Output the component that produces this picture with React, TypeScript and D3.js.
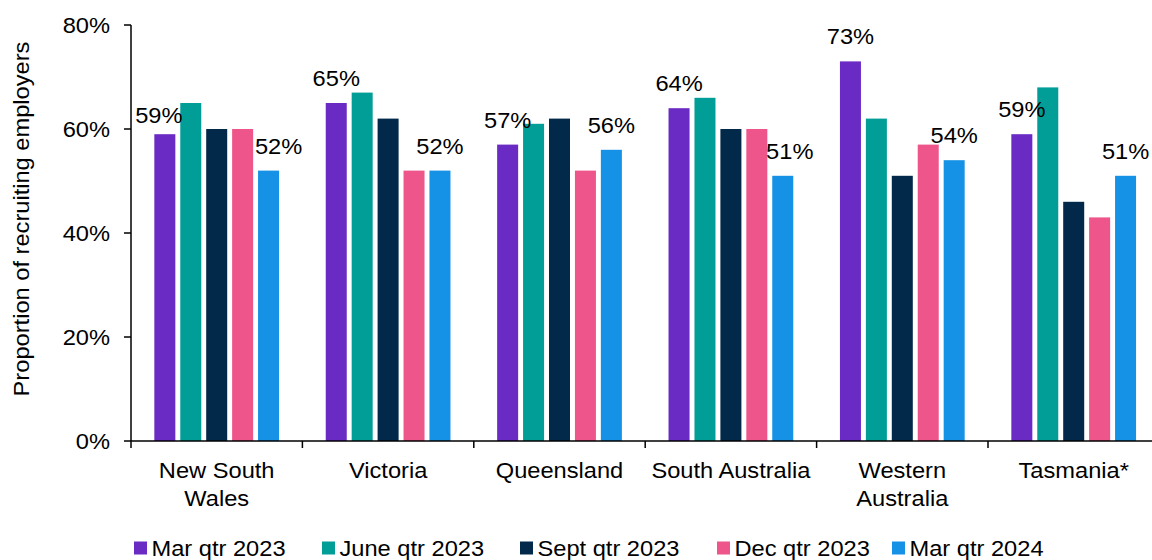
import React from "react";
import * as d3 from "d3";

const categories = ["New South Wales", "Victoria", "Queensland", "South Australia", "Western Australia", "Tasmania*"];
const categoryLines = [["New South", "Wales"], ["Victoria"], ["Queensland"], ["South Australia"], ["Western", "Australia"], ["Tasmania*"]];
const seriesNames = ["Mar qtr 2023", "June qtr 2023", "Sept qtr 2023", "Dec qtr 2023", "Mar qtr 2024"];
const marQtr2023 = [59, 65, 57, 64, 73, 59];
const juneQtr2023 = [65, 67, 61, 66, 62, 68];
const septQtr2023 = [60, 62, 62, 60, 51, 46];
const decQtr2023 = [60, 52, 52, 60, 57, 43];
const marQtr2024 = [52, 52, 56, 51, 54, 51];
const seriesValues = [marQtr2023, juneQtr2023, septQtr2023, decQtr2023, marQtr2024];
const yTicks = [0, 20, 40, 60, 80];
const labelledSeries = [0, 4];

const colors = ["#6A2AC4", "#009E97", "#03294A", "#EE558A", "#1591E6"];
// small manual label nudges seen in the reference: key = "cat|series"
const labelNudge: Record<string, [number, number]> = {
  "0|0": [-6, 6],
  "0|4": [10, 0],
  "3|4": [7, 0],
};

const W = 1152;
const H = 560;
const FONT = "Arial, 'Liberation Sans', Helvetica, sans-serif";
const FS = 21.5;
const SX = 1.1;

function T({ x, y, anchor = "start", children, size = FS }: { x: number; y: number; anchor?: string; children: React.ReactNode; size?: number }) {
  return (
    <text transform={`translate(${x},${y}) scale(${SX},1)`} textAnchor={anchor} fontSize={size} fill="#000">
      {children}
    </text>
  );
}

export default function App() {
  const left = 131;
  const step = 171.4;
  const x = d3.scaleBand<string>().domain(categories).range([left, left + step * categories.length]).padding(0);
  const xi = d3.scaleBand<string>().domain(seriesNames).range([0, x.bandwidth()]).paddingInner(0.19).paddingOuter(0.9);
  const y = d3.scaleLinear().domain([0, 80]).range([441, 25]);
  const fmt = (v: number) => `${v}%`;
  const boundaries = categories.map((c) => x(c)!).concat([x(categories[categories.length - 1])! + x.bandwidth()]);

  const legendX = [134, 322, 520, 717, 892];

  return (
    <svg width={W} height={H} style={{ position: "absolute", left: 0, top: 0, background: "#fff" }} fontFamily={FONT}>
      {/* bars */}
      {categories.map((c, ci) => (
        <g key={c}>
          {seriesNames.map((s, si) => {
            const v = seriesValues[si][ci];
            return (
              <rect
                key={s}
                x={x(c)! + xi(s)!}
                y={y(v)}
                width={xi.bandwidth()}
                height={y(0) - y(v)}
                fill={colors[si]}
              />
            );
          })}
        </g>
      ))}
      {/* axes */}
      <line x1={left} x2={left} y1={y(80)} y2={y(0)} stroke="#000" strokeWidth={1.5} />
      <line x1={left} x2={boundaries[boundaries.length - 1]} y1={y(0)} y2={y(0)} stroke="#000" strokeWidth={1.5} />
      {yTicks.map((t) => (
        <g key={t}>
          <line x1={left - 7} x2={left} y1={y(t)} y2={y(t)} stroke="#000" strokeWidth={1.5} />
          <T x={110} y={y(t) + 7.5} anchor="end">
            {fmt(t)}
          </T>
        </g>
      ))}
      {boundaries.map((b, i) => (
        <line key={i} x1={b} x2={b} y1={y(0)} y2={y(0) + 7} stroke="#000" strokeWidth={1.5} />
      ))}
      {categories.map((c, ci) =>
        categoryLines[ci].map((l, li) => (
          <T key={`${c}-${li}`} x={x(c)! + x.bandwidth() / 2} y={478 + li * 28} anchor="middle">
            {l}
          </T>
        ))
      )}
      {/* data labels */}
      {categories.map((c, ci) =>
        labelledSeries.map((si) => {
          const v = seriesValues[si][ci];
          const n = labelNudge[`${ci}|${si}`] || [0, 0];
          return (
            <T
              key={`${c}-${si}`}
              x={x(c)! + xi(seriesNames[si])! + xi.bandwidth() / 2 + n[0]}
              y={y(v) - 17 + n[1]}
              anchor="middle"
            >
              {fmt(v)}
            </T>
          );
        })
      )}
      {/* y title */}
      <text transform={`translate(29,219) rotate(-90) scale(1.1,1)`} textAnchor="middle" fontSize={21.5} fill="#000">
        Proportion of recruiting employers
      </text>
      {/* legend */}
      {seriesNames.map((s, si) => (
        <g key={s}>
          <rect x={legendX[si]} y={541.5} width={13} height={13} fill={colors[si]} />
          <T x={legendX[si] + 17.5} y={556}>
            {s}
          </T>
        </g>
      ))}
    </svg>
  );
}
